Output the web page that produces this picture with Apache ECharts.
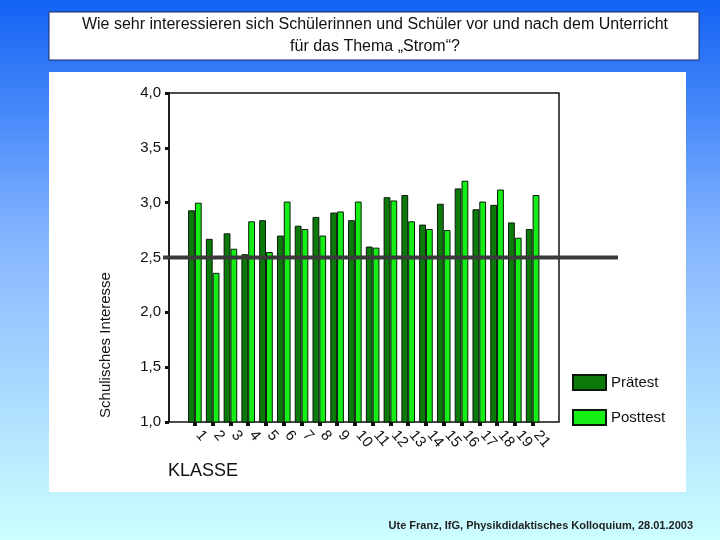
<!DOCTYPE html>
<html>
<head>
<meta charset="utf-8">
<script src="https://cdn.jsdelivr.net/npm/echarts@6/dist/echarts.min.js"></script>
<style>
  html, body { margin: 0; padding: 0; }
  #chart { width: 720px; height: 540px; }
</style>
</head>
<body>
<div id="chart"></div>
<script>
const klassen = ['1', '2', '3', '4', '5', '6', '7', '8', '9', '10', '11', '12', '13', '14', '15', '16', '17', '18', '19', '21']
const praetest = [2.93, 2.67, 2.72, 2.53, 2.84, 2.70, 2.79, 2.87, 2.91, 2.84, 2.60, 3.05, 3.07, 2.80, 2.99, 3.13, 2.94, 2.98, 2.82, 2.76]
const posttest = [3.00, 2.36, 2.58, 2.83, 2.55, 3.01, 2.76, 2.70, 2.92, 3.01, 2.59, 3.02, 2.83, 2.76, 2.75, 3.20, 3.01, 3.12, 2.68, 3.07]
const referenz = 2.5

const font = '"Liberation Sans", Arial, sans-serif'

const chart = echarts.init(document.getElementById('chart'))

const option = {
  animation: false,
  backgroundColor: new echarts.graphic.LinearGradient(0, 0, 0, 1, [
    { offset: 0, color: '#1262f4' },
    { offset: 0.45, color: '#86b6ff' },
    { offset: 1, color: '#ccffff' }
  ]),
  textStyle: { fontFamily: font },
  legend: {
    orient: 'vertical',
    left: 572,
    top: 374,
    padding: 0,
    icon: 'rect',
    itemWidth: 33,
    itemHeight: 15,
    itemGap: 18,
    textStyle: { fontSize: 15, color: '#111', fontFamily: font },
    data: ['Prätest', 'Posttest']
  },
  grid: [
    { left: 169, top: 93, width: 390, height: 329, show: true, borderColor: '#111', borderWidth: 1.5, backgroundColor: 'transparent' },
    { left: 186, top: 93, width: 355.5, height: 329 }
  ],
  xAxis: [
    { gridIndex: 0, type: 'value', min: 0, max: 1, show: false },
    {
      gridIndex: 1,
      type: 'category',
      data: klassen,
      axisLine: { show: false },
      axisTick: { show: true, alignWithLabel: true, length: 4, lineStyle: { width: 4, color: '#111' } },
      axisLabel: { rotate: -50, margin: 6, fontSize: 15, color: '#111', interval: 0, padding: [0, 0, 0, 6] }
    }
  ],
  yAxis: [
    {
      gridIndex: 0,
      type: 'value',
      min: 1,
      max: 4,
      interval: 0.5,
      axisLine: { show: true, lineStyle: { color: '#111', width: 1.5 } },
      axisTick: { show: true, length: 4, lineStyle: { width: 3, color: '#111' } },
      axisLabel: {
        fontSize: 15,
        color: '#111',
        margin: 8,
        formatter: (v) => v.toFixed(1).replace('.', ',')
      },
      splitLine: { show: false }
    },
    { gridIndex: 1, type: 'value', min: 1, max: 4, show: false }
  ],
  series: [
    {
      name: 'Prätest',
      type: 'bar',
      xAxisIndex: 1,
      yAxisIndex: 1,
      data: praetest,
      barWidth: 6.8,
      barGap: '0%',
      itemStyle: { color: '#0b7a0b', borderColor: '#0a1a0a', borderWidth: 1 }
    },
    {
      name: 'Posttest',
      type: 'bar',
      xAxisIndex: 1,
      yAxisIndex: 1,
      data: posttest,
      barWidth: 6.8,
      barGap: '0%',
      itemStyle: { color: '#15ee15', borderColor: '#0a1a0a', borderWidth: 1 }
    }
  ]
}

chart.setOption(option)

const yRef = chart.convertToPixel({ yAxisIndex: 0 }, referenz)

chart.setOption({
  graphic: [
    {
      type: 'rect', z: -10,
      shape: { x: 49, y: 72, width: 637, height: 420 },
      style: { fill: '#ffffff' }
    },
    {
      type: 'rect', z: -10,
      shape: { x: 49, y: 12, width: 650, height: 48 },
      style: { fill: '#ffffff', stroke: '#1c2b5c', lineWidth: 1 }
    },
    {
      type: 'text', z: 10,
      x: 375, y: 36,
      style: {
        text: 'Wie sehr interessieren sich Schülerinnen und Schüler vor und nach dem Unterricht\nfür das Thema „Strom“?',
        font: '16px ' + font,
        fill: '#111',
        align: 'center',
        verticalAlign: 'middle',
        lineHeight: 22
      }
    },
    {
      type: 'text', z: 10,
      x: 106, y: 345,
      rotation: Math.PI / 2,
      style: {
        text: 'Schulisches Interesse',
        font: '15px ' + font,
        fill: '#111',
        align: 'center',
        verticalAlign: 'middle'
      }
    },
    {
      type: 'text', z: 10,
      x: 168, y: 471,
      style: {
        text: 'KLASSE',
        font: '18px ' + font,
        fill: '#111',
        align: 'left',
        verticalAlign: 'middle'
      }
    },
    {
      type: 'line', z: 100,
      shape: { x1: 163, y1: yRef, x2: 618, y2: yRef },
      style: { stroke: '#3a3a3a', lineWidth: 4 }
    },
    {
      type: 'text', z: 10,
      x: 693, y: 526,
      style: {
        text: 'Ute Franz, IfG, Physikdidaktisches Kolloquium, 28.01.2003',
        font: 'bold 11px "Liberation Sans Narrow", "Liberation Sans", sans-serif',
        fill: '#222',
        align: 'right',
        verticalAlign: 'middle'
      }
    }
  ]
})

window.addEventListener('resize', () => chart.resize())
</script>
</body>
</html>
